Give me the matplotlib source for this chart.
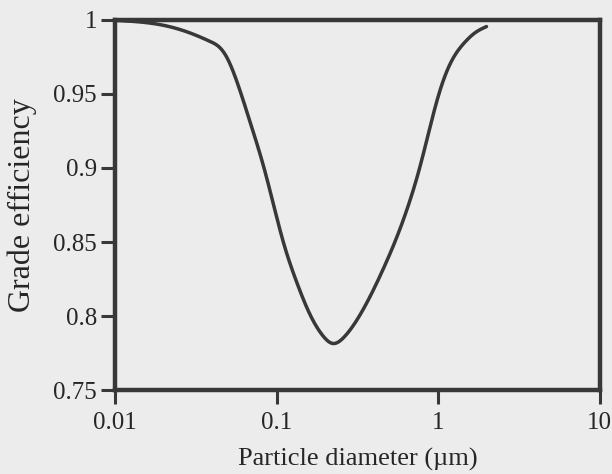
import matplotlib
matplotlib.use("Agg")
import matplotlib.pyplot as plt
import numpy as np

# Data
diameter_um = [0.0100, 0.019, 0.0291, 0.0387, 0.0446, 0.0490, 0.0565, 0.0684,
               0.0826, 0.0953, 0.110, 0.133, 0.161, 0.194, 0.222, 0.260, 0.3125,
               0.380, 0.460, 0.560, 0.650, 0.750, 0.860, 0.980, 1.10, 1.25, 1.45, 1.70, 1.99]
efficiency = [0.9997, 0.9968, 0.9912, 0.9855, 0.9812, 0.9750, 0.9590, 0.9313,
              0.9020, 0.8760, 0.8500, 0.8230, 0.8010, 0.7865, 0.7815, 0.7855, 0.7970,
              0.8135, 0.8325, 0.8545, 0.8740, 0.8960, 0.9210, 0.9450, 0.9620, 0.9750, 0.9845, 0.9915, 0.9955]

x_ticks = [0.01, 0.1, 1, 10]
x_tick_labels = ["0.01", "0.1", "1", "10"]
y_ticks = [0.75, 0.8, 0.85, 0.9, 0.95, 1.0]
y_tick_labels = ["0.75", "0.8", "0.85", "0.9", "0.95", "1"]

ink = "#383838"
txt = "#262626"
bg = "#ececec"

plt.rcParams["font.family"] = ["Liberation Serif", "DejaVu Serif"]

fig = plt.figure(figsize=(6.12, 4.74), dpi=100, facecolor=bg)
ax = fig.add_axes([0.188, 0.177, 0.792, 0.781], facecolor=bg)


def natural_spline(xk, yk, xq):
    xk = np.asarray(xk, float); yk = np.asarray(yk, float)
    n = len(xk)
    h = np.diff(xk)
    A = np.zeros((n, n)); b = np.zeros(n)
    A[0, 0] = 1; A[-1, -1] = 1
    for i in range(1, n - 1):
        A[i, i - 1] = h[i - 1]
        A[i, i] = 2 * (h[i - 1] + h[i])
        A[i, i + 1] = h[i]
        b[i] = 3 * ((yk[i + 1] - yk[i]) / h[i] - (yk[i] - yk[i - 1]) / h[i - 1])
    c = np.linalg.solve(A, b)
    bb = (yk[1:] - yk[:-1]) / h - h * (2 * c[:-1] + c[1:]) / 3
    d = (c[1:] - c[:-1]) / (3 * h)
    idx = np.clip(np.searchsorted(xk, xq) - 1, 0, n - 2)
    dx = xq - xk[idx]
    return yk[idx] + bb[idx] * dx + c[idx] * dx**2 + d[idx] * dx**3


lx = np.log10(diameter_um)
t = np.linspace(lx[0], lx[-1], 500)
ys = natural_spline(lx, efficiency, t)
ax.plot(10 ** t, ys, color=ink, lw=2.5, solid_capstyle="round", clip_on=False)

ax.set_xscale("log")
ax.set_xlim(0.01, 10)
ax.set_ylim(0.75, 1.0)
ax.set_xticks(x_ticks)
ax.set_xticklabels(x_tick_labels)
ax.set_yticks(y_ticks)
ax.set_yticklabels(y_tick_labels)
ax.minorticks_off()

for s in ax.spines.values():
    s.set_linewidth(3.2)
    s.set_color(ink)

ax.tick_params(axis="both", direction="out", length=10, width=2.2, color=ink,
               labelsize=18, labelcolor=txt)
ax.tick_params(axis="x", pad=6)
ax.tick_params(axis="y", pad=3)

ax.set_xlabel("Particle diameter (\u00b5m)", fontsize=19, color=txt, labelpad=10)
ax.set_ylabel("Grade efficiency", fontsize=23, color=txt, labelpad=12)

fig.savefig("out.png", dpi=100, facecolor=bg)
